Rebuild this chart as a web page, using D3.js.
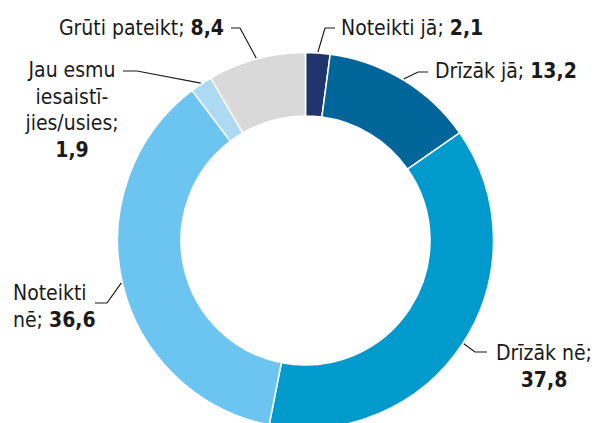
<!DOCTYPE html>
<html>
<head>
<meta charset="utf-8">
<script src="https://cdn.jsdelivr.net/npm/d3@7"></script>
<style>
  html, body { margin: 0; padding: 0; background: #fff; }
  svg { display: block; }
</style>
</head>
<body>
<script>
// Data
const categories = ["Noteikti jā", "Drīzāk jā", "Drīzāk nē", "Noteikti nē", "Jau esmu iesaistījies/usies", "Grūti pateikt"];
const values = [2.1, 13.2, 37.8, 36.6, 1.9, 8.4];
// label text split over lines; "#" is replaced by the bold value
const labelLines = [
    ["Noteikti jā; #"],
    ["Drīzāk jā; #"],
    ["Drīzāk nē;", "#"],
    ["Noteikti", "nē; #"],
    ["Jau esmu", "iesaistī-", "jies/usies;", "#"],
    ["Grūti pateikt; #"]
];
const colors = ["#1f356b", "#00669a", "#009bcc", "#6bc5f0", "#acdaf3", "#d9d9d9"];

// label layout
const labelPos = [
    {x: 341, y: 35, anchor: "start", elbow: [[325, 28], [335, 28]]},
    {x: 435, y: 78, anchor: "start", elbow: [[418, 72], [428, 72]]},
    {x: 544, y: 360, anchor: "middle", elbow: [[475, 352], [487, 352]]},
    {x: 13, y: 300, anchor: "start", elbow: [[107, 303], [95, 303]]},
    {x: 72, y: 77, anchor: "middle", elbow: [[137, 71], [123, 71]]},
    {x: 224, y: 35, anchor: "end", elbow: [[240, 28], [231, 28]]}
];

const width = 597;
const height = 423;
const cx = 305.5, cy = 240.5;
const outerR = 188, innerR = 124.5;
const lineH = 26.5;

const fmt = v => d3.format(".1f")(v).replace(".", ",");

const data = categories.map((c, i) => ({cat: c, value: values[i], i: i}));

const pie = d3.pie().sort(null).value(d => d.value);
const arcs = pie(data);

const arc = d3.arc().innerRadius(innerR).outerRadius(outerR);

const svg = d3.create("svg")
    .attr("width", width)
    .attr("height", height)
    .attr("viewBox", [0, 0, width, height]);

document.body.appendChild(svg.node());

const g = svg.append("g").attr("transform", `translate(${cx},${cy})`);

g.selectAll("path")
    .data(arcs)
    .join("path")
    .attr("d", arc)
    .attr("fill", d => colors[d.data.i])
    .attr("stroke", "#fff")
    .attr("stroke-width", 1.5)
    .attr("stroke-linejoin", "round");

// leader lines
const line = d3.line();
svg.append("g")
    .attr("fill", "none")
    .attr("stroke", "#1a1a1a")
    .attr("stroke-width", 1.2)
    .selectAll("path")
    .data(arcs)
    .join("path")
    .attr("d", d => {
        const a = (d.startAngle + d.endAngle) / 2;
        const p = [cx + Math.sin(a) * (outerR + 1), cy - Math.cos(a) * (outerR + 1)];
        const e = labelPos[d.data.i].elbow;
        return line([p, e[0], e[1]]);
    });

// labels
const labels = svg.append("g")
    .attr("font-family", "'DejaVu Sans Condensed', 'Liberation Sans Narrow', sans-serif")
    .attr("font-size", 21)
    .attr("fill", "#1a1a1a");

data.forEach(d => {
    const pos = labelPos[d.i];
    const t = labels.append("text")
        .attr("text-anchor", pos.anchor);
    labelLines[d.i].forEach((ln, j) => {
        const segs = [];
        ln.split("#").forEach((part, k) => {
            if (k > 0) segs.push({text: fmt(d.value), bold: true});
            if (part.length) segs.push({text: part, bold: false});
        });
        segs.forEach((s, k) => {
            const sp = t.append("tspan").text(s.text);
            if (s.bold) sp.attr("font-weight", "bold");
            if (k === 0) sp.attr("x", pos.x).attr("y", pos.y + j * lineH);
        });
    });
});
</script>
</body>
</html>
